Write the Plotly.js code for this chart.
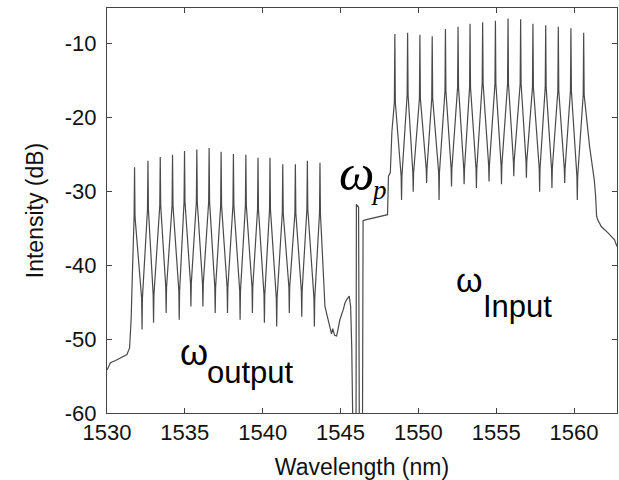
<!DOCTYPE html>
<html>
<head>
<meta charset="utf-8">
<script src="https://cdn.plot.ly/plotly-3.0.1.min.js"></script>
<style>html,body{margin:0;padding:0;background:#fff;}#chart{width:619px;height:480px;}</style>
</head>
<body>
<div id="chart"></div>
<script>
// left edge of the spectrum (floor rising into the output comb)
const leftEdgeNm = [1530.0, 1530.22, 1530.55, 1530.85, 1531.28, 1531.45, 1531.55, 1531.62, 1531.68, 1531.73];
const leftEdgeDb = [-54.2, -53.2, -52.9, -52.6, -52.1, -51.2, -47.4, -42.0, -38.0, -34.0];

// output comb (omega_output)
const outPeakNm = [1531.77,1532.63,1533.42,1534.21,1534.98,1535.77,1536.56,1537.33,1538.12,1538.92,1539.70,1540.47,1541.29,1542.10,1542.87,1543.68];
const outPeakDb = [-26.8,-25.9,-25.4,-25.1,-24.6,-24.4,-24.2,-24.7,-25.0,-25.1,-25.5,-25.5,-26.4,-26.4,-25.9,-26.2];
const outBaseDb = [-33.5,-32.5,-32.0,-32.0,-31.5,-31.5,-31.5,-32.0,-32.0,-32.0,-32.5,-32.5,-33.0,-33.0,-32.5,-33.0];
const outDipNm  = [1532.25,1532.99,1533.80,1534.64,1535.39,1536.16,1536.95,1537.74,1538.55,1539.34,1540.11,1540.90,1541.71,1542.51,1543.32];
const outValleyDb = [-44.5,-44.0,-43.0,-43.5,-42.5,-42.5,-43.0,-43.0,-43.5,-43.0,-44.0,-44.5,-43.0,-43.5,-44.5];
const outDipDb  = [-48.7,-47.8,-46.5,-47.4,-45.6,-45.6,-46.5,-46.5,-47.4,-46.5,-47.8,-48.3,-46.5,-47.0,-48.3];

// region between the combs (bump, pump omega_p, plateau)
const midNm = [1544.00,1544.30,1544.42,1544.50,1544.62,1544.75,1544.96,1545.18,1545.29,1545.39,1545.56,1545.65,1545.72,1545.78,1545.80];
const midDb = [-45.6,-48.3,-49.3,-48.6,-49.5,-49.6,-47.4,-46.0,-45.1,-44.7,-44.2,-45.6,-51.0,-60.0,-70.0];
const pumpNm = [1545.99,1546.02,1546.16,1546.22];
const pumpDb = [-70.0,-31.8,-32.2,-70.0];
const plateauNm = [1546.40,1546.45,1546.60,1547.00,1547.50,1548.02,1548.08,1548.20,1548.30,1548.42];
const plateauDb = [-70.0,-34.0,-33.9,-33.7,-33.4,-33.2,-28.0,-27.5,-22.0,-18.5];

// input comb (omega_Input)
const inPeakNm = [1548.49,1549.31,1550.10,1550.89,1551.74,1552.55,1553.32,1554.13,1554.95,1555.76,1556.57,1557.36,1558.18,1558.99,1559.80,1560.62];
const inPeakDb = [-8.8,-8.6,-8.9,-9.1,-8.1,-7.8,-7.4,-7.2,-7.0,-6.7,-6.8,-7.4,-7.6,-7.8,-8.0,-8.6];
const inBaseDb = [-18.0,-17.0,-17.5,-17.5,-16.5,-16.0,-16.0,-15.5,-15.5,-15.5,-15.5,-16.0,-16.0,-16.5,-16.5,-17.0];
const inDipNm  = [1548.92,1549.67,1550.53,1551.33,1552.13,1552.94,1553.73,1554.54,1555.34,1556.13,1556.94,1557.79,1558.58,1559.40,1560.21];
const inValleyDb = [-28.0,-27.5,-27.0,-27.5,-27.0,-27.0,-27.0,-26.5,-26.5,-26.0,-26.0,-27.0,-27.0,-27.0,-28.0];
const inDipDb  = [-31.2,-30.1,-28.9,-31.2,-29.4,-29.1,-29.6,-28.7,-29.1,-28.0,-28.2,-30.1,-29.6,-28.9,-31.2];

// right tail
const rightEdgeNm = [1561.00,1561.30,1561.38,1561.45,1561.52,1561.75,1562.20,1562.60,1562.76];
const rightEdgeDb = [-24.0,-28.5,-30.5,-33.4,-33.9,-34.8,-35.7,-36.6,-37.5];

// axis ticks
const xTicks = [1530,1535,1540,1545,1550,1555,1560];
const yTicks = [-60,-50,-40,-30,-20,-10];
const yTickLabels = ['-60','-50','-40','-30','-20','-10'];

// ---- assemble the polyline from the read values ----
const X = [], Y = [];
function addPts(xs, ys){ for (let i=0;i<xs.length;i++){ X.push(xs[i]); Y.push(ys[i]); } }
function addComb(pNm, pDb, bDb, dNm, vDb, dDb){
  const w = 0.03, dw = 0.025; // spike / dip half widths (nm)
  for (let i=0;i<pNm.length;i++){
    addPts([pNm[i]-w, pNm[i], pNm[i]+w],[bDb[i], pDb[i], bDb[i]]);
    if (i < dNm.length) addPts([dNm[i]-dw, dNm[i], dNm[i]+dw],[vDb[i], dDb[i], vDb[i]]);
  }
}
addPts(leftEdgeNm, leftEdgeDb);
addComb(outPeakNm, outPeakDb, outBaseDb, outDipNm, outValleyDb, outDipDb);
addPts(midNm, midDb);
addPts(pumpNm, pumpDb);
addPts(plateauNm, plateauDb);
addComb(inPeakNm, inPeakDb, inBaseDb, inDipNm, inValleyDb, inDipDb);
addPts(rightEdgeNm, rightEdgeDb);

const trace = {
  x: X, y: Y, type: 'scatter', mode: 'lines',
  line: {color: '#4a4a4a', width: 1.2}, hoverinfo: 'skip'
};

const sans = 'Liberation Sans, Arial, Helvetica, sans-serif';
const serif = 'Liberation Serif, Times New Roman, serif';
const layout = {
  width: 619, height: 480,
  margin: {l: 107, r: 2, t: 8, b: 67},
  paper_bgcolor: '#fff', plot_bgcolor: '#fff',
  showlegend: false,
  font: {family: sans, color: '#111', size: 22},
  xaxis: {
    range: [1530, 1562.76], tickvals: xTicks, ticks: 'inside', ticklen: 5, tickcolor: '#444',
    showline: true, linecolor: '#444', linewidth: 1, mirror: 'allticks', showgrid: false, zeroline: false,
    tickfont: {family: sans, size: 22, color: '#111'},
    title: {text: 'Wavelength (nm)', font: {family: sans, size: 23, color: '#111'}, standoff: 19}
  },
  yaxis: {
    range: [-60, -5.27], tickvals: yTicks, ticktext: yTickLabels, ticks: 'inside', ticklen: 5, tickcolor: '#444',
    showline: true, linecolor: '#444', linewidth: 1, mirror: 'allticks', showgrid: false, zeroline: false,
    tickfont: {family: sans, size: 22, color: '#111'}, ticklabelstandoff: 5,
    title: {text: 'Intensity (dB)', font: {family: sans, size: 23, color: '#111'}, standoff: 14}
  },
  annotations: [
    {x: 1535.60, y: -51.85, xref: 'x', yref: 'y', text: 'ω', showarrow: false, font: {family: sans, size: 36, color: '#000'}},
    {x: 1539.22, y: -54.55, xref: 'x', yref: 'y', text: 'output', showarrow: false, font: {family: sans, size: 31, color: '#000'}},
    {x: 1546.05, y: -27.5, xref: 'x', yref: 'y', text: '<i>ω</i>', showarrow: false, font: {family: serif, size: 50, color: '#000'}},
    {x: 1547.45, y: -29.82, xref: 'x', yref: 'y', text: '<i>p</i>', showarrow: false, font: {family: serif, size: 27, color: '#000'}},
    {x: 1553.30, y: -42.0, xref: 'x', yref: 'y', text: 'ω', showarrow: false, font: {family: sans, size: 34, color: '#000'}},
    {x: 1556.38, y: -45.63, xref: 'x', yref: 'y', text: 'Input', showarrow: false, font: {family: sans, size: 31, color: '#000'}}
  ]
};

Plotly.newPlot('chart', [trace], layout, {staticPlot: true, displayModeBar: false});
</script>
</body>
</html>
